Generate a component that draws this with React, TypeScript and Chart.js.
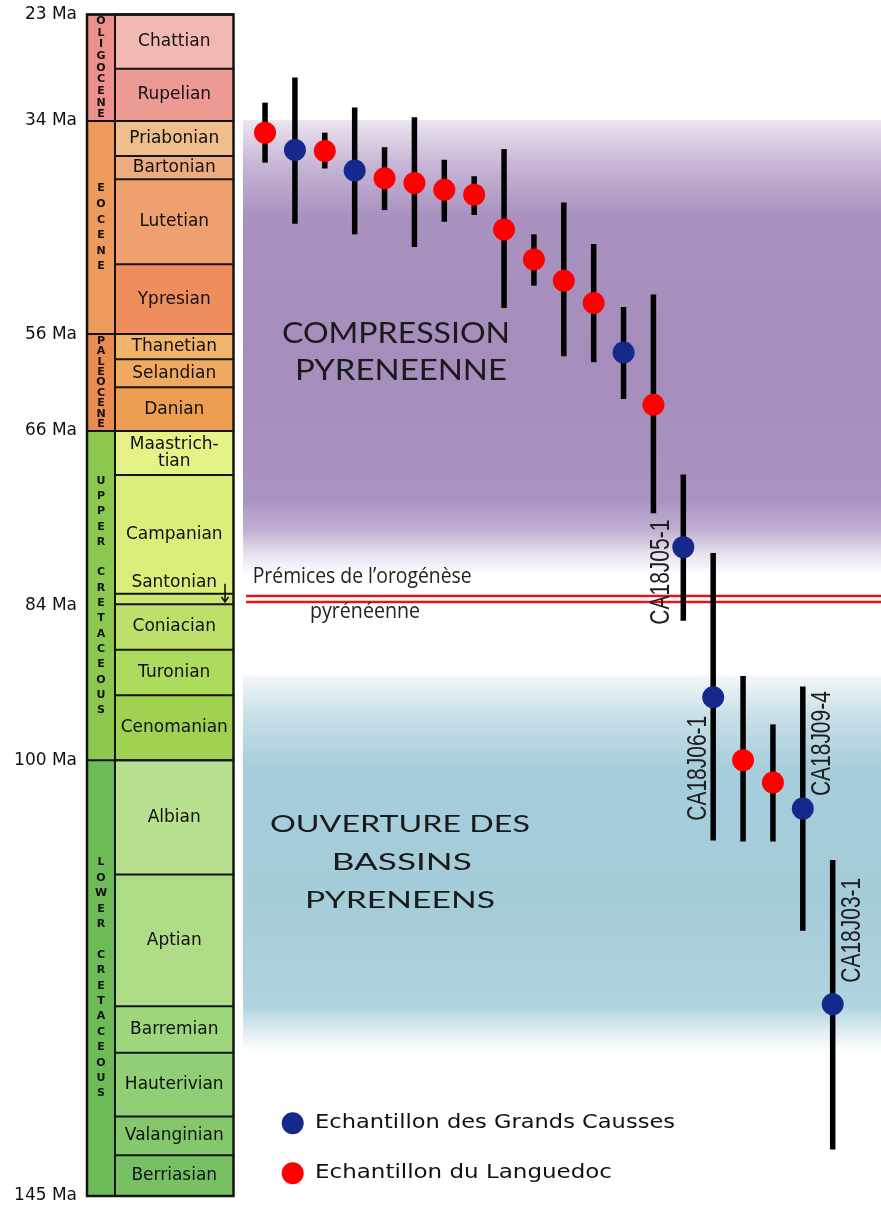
import React, { useEffect, useRef } from 'react';
import { Chart, registerables } from 'chart.js';

Chart.register(...registerables);

// ---------------- data ----------------
const tickAges = [23, 34, 56, 66, 84, 100, 145];

const epochNames = ['OLIGOCENE', 'EOCENE', 'PALEOCENE', 'UPPER CRETACEOUS', 'LOWER CRETACEOUS'];
const epochTop = [23, 34, 56, 66, 100];
const epochBase = [34, 56, 66, 100, 145];
const epochColors = ['#ee918d', '#ee9a5a', '#ea8b4f', '#8cc84e', '#6dbb56'];

const stageNames = [
  'Chattian', 'Rupelian', 'Priabonian', 'Bartonian', 'Lutetian', 'Ypresian',
  'Thanetian', 'Selandian', 'Danian',
  'Maastrichtian', 'Campanian', 'Santonian', 'Coniacian', 'Turonian', 'Cenomanian',
  'Albian', 'Aptian', 'Barremian', 'Hauterivian', 'Valanginian', 'Berriasian',
];
const stageTop = [23, 28.6, 34, 37.6, 40.0, 48.8, 56, 58.6, 61.5, 66, 70.55, 82.8, 83.9, 88.6, 93.3, 100, 111.8, 125.4, 130.2, 136.8, 140.8];
const stageBase = [28.6, 34, 37.6, 40.0, 48.8, 56, 58.6, 61.5, 66, 70.55, 82.8, 83.9, 88.6, 93.3, 100, 111.8, 125.4, 130.2, 136.8, 140.8, 145];
const stageColors = [
  '#f2b8b2', '#ee9a94', '#f0bd8d', '#efab80', '#efa06f', '#f08d5c',
  '#f0b46a', '#f0a960', '#ee9e52',
  '#e5f285', '#daee7c', '#cde66f', '#bee06a', '#addb5d', '#9ed250',
  '#b7e08f', '#afdd87', '#9ed67e', '#90cf75', '#85c86b', '#77c064',
];

// samples, left to right (ages in Ma, with age range)
const sampleAge = [35.2, 37.0, 37.1, 39.1, 39.9, 40.4, 41.1, 41.6, 45.2, 48.3, 50.5, 52.8, 57.9, 63.3, 78.0, 93.5, 100.0, 102.3, 105.0, 125.2];
const sampleAgeMin = [32.1, 29.5, 35.2, 32.6, 36.7, 33.6, 38.0, 39.7, 36.9, 45.7, 42.4, 46.7, 53.2, 51.9, 70.5, 78.6, 91.3, 96.3, 92.4, 110.3];
const sampleAgeMax = [38.3, 44.6, 38.9, 45.7, 43.2, 47.0, 44.4, 43.7, 53.3, 51.0, 58.3, 58.9, 62.7, 74.5, 85.6, 108.3, 108.4, 108.4, 117.6, 140.2];
const sampleRegion = ['L', 'G', 'L', 'G', 'L', 'L', 'L', 'L', 'L', 'L', 'L', 'L', 'G', 'L', 'G', 'G', 'L', 'L', 'G', 'G'];
const sampleNames = ['', '', '', '', '', '', '', '', '', '', '', '', '', '', 'CA18J05-1', 'CA18J06-1', '', '', 'CA18J09-4', 'CA18J03-1'];

const regionNames = ['Echantillon des Grands Causses', 'Echantillon du Languedoc'];

const compressionBand = [33.9, 80.9];
const openingBand = [91.2, 130.1];
const orogenyOnsetMa = 83.36;

// ---------------- styles ----------------
const W = 881;
const H = 1206;
const BLUE = '#15298c';
const RED = '#ff0000';
const AXIS_W = 77;
const BAND_LEFT = 243;
const PERIOD_L = 87;
const PERIOD_R = 115;
const STAGE_R = 233.5;
const EPOCH_LETTER_STEP = [11.7, 15.6, 10.4, 15.3, 15.4];
const LABEL_OFFSETS: Record<string, [number, number]> = {
  'CA18J05-1': [-24, 25],
  'CA18J06-1': [-17, 71],
  'CA18J09-4': [17, -65],
  'CA18J03-1': [17, -74],
};

function fitText(ctx: CanvasRenderingContext2D, text: string, x: number, y: number, width: number, align: 'left' | 'center') {
  const w = ctx.measureText(text).width;
  const s = width / w;
  ctx.save();
  ctx.translate(x, y);
  ctx.scale(s, 1);
  ctx.textAlign = align;
  ctx.textBaseline = 'alphabetic';
  ctx.fillText(text, 0, 0);
  ctx.restore();
}

const decorPlugin = {
  id: 'decor',
  beforeDatasetsDraw(chart: any) {
    const ctx: CanvasRenderingContext2D = chart.ctx;
    const { right } = chart.chartArea;
    const left = BAND_LEFT;
    const ys = chart.scales.y;
    const xs = chart.scales.x;
    ctx.save();

    // purple compression band
    {
      const y0 = ys.getPixelForValue(compressionBand[0]);
      const y1 = ys.getPixelForValue(compressionBand[1]);
      const g = ctx.createLinearGradient(0, y0, 0, y1);
      g.addColorStop(0, '#ece5f0');
      g.addColorStop(0.1, '#c6b5d5');
      g.addColorStop(0.21, '#a992c0');
      g.addColorStop(0.5, '#a58dbc');
      g.addColorStop(0.835, '#a993c1');
      g.addColorStop(0.9, '#c0afd0');
      g.addColorStop(0.95, '#e5deec');
      g.addColorStop(1, '#ffffff');
      ctx.fillStyle = g;
      ctx.fillRect(left, y0, right - left, y1 - y0);
    }
    // blue opening band
    {
      const y0 = ys.getPixelForValue(openingBand[0]);
      const y1 = ys.getPixelForValue(openingBand[1]);
      const g = ctx.createLinearGradient(0, y0, 0, y1);
      g.addColorStop(0, '#f3f8fa');
      g.addColorStop(0.11, '#c8dfe6');
      g.addColorStop(0.25, '#a6cddb');
      g.addColorStop(0.6, '#a5ccd9');
      g.addColorStop(0.88, '#b0d4df');
      g.addColorStop(0.94, '#dbeaef');
      g.addColorStop(1, '#ffffff');
      ctx.fillStyle = g;
      ctx.fillRect(left, y0, right - left, y1 - y0);
    }

    // orogeny onset double red line
    {
      const y = ys.getPixelForValue(orogenyOnsetMa);
      for (const dy of [-3, 3]) {
        ctx.strokeStyle = 'rgba(255,130,130,0.45)';
        ctx.lineWidth = 4;
        ctx.beginPath();
        ctx.moveTo(left + 3, y + dy);
        ctx.lineTo(right, y + dy);
        ctx.stroke();
        ctx.strokeStyle = '#f01010';
        ctx.lineWidth = 2;
        ctx.beginPath();
        ctx.moveTo(left + 3, y + dy);
        ctx.lineTo(right, y + dy);
        ctx.stroke();
      }
      ctx.fillStyle = '#222';
      ctx.font = '22px "Open Sans"';
      fitText(ctx, 'Prémices de l’orogénèse', 252.7, y - 15.7, 219, 'left');
      fitText(ctx, 'pyrénéenne', 365, y + 19.3, 110, 'center');
    }

    // band titles
    ctx.fillStyle = '#1a1a1a';
    ctx.font = '28px Lato';
    fitText(ctx, 'COMPRESSION', 396, 343.3, 228, 'center');
    fitText(ctx, 'PYRENEENNE', 401, 380, 212, 'center');
    ctx.font = '23px Lato';
    fitText(ctx, 'OUVERTURE DES', 400, 831.5, 260, 'center');
    fitText(ctx, 'BASSINS', 401.7, 870, 140, 'center');
    fitText(ctx, 'PYRENEENS', 400, 908, 190, 'center');

    // error bars
    ctx.strokeStyle = '#000';
    ctx.lineWidth = 5.5;
    ctx.lineCap = 'butt';
    sampleAge.forEach((_, i) => {
      const x = xs.getPixelForValue(i);
      ctx.beginPath();
      ctx.moveTo(x, ys.getPixelForValue(sampleAgeMin[i]));
      ctx.lineTo(x, ys.getPixelForValue(sampleAgeMax[i]));
      ctx.stroke();
    });

    // geological time column
    const top = ys.getPixelForValue(23);
    const bottom = ys.getPixelForValue(145);
    stageNames.forEach((_, i) => {
      const yt = ys.getPixelForValue(stageTop[i]);
      const yb = ys.getPixelForValue(stageBase[i]);
      ctx.fillStyle = stageColors[i];
      ctx.fillRect(PERIOD_R, yt, STAGE_R - PERIOD_R, yb - yt);
    });
    epochNames.forEach((_, i) => {
      const yt = ys.getPixelForValue(epochTop[i]);
      const yb = ys.getPixelForValue(epochBase[i]);
      ctx.fillStyle = epochColors[i];
      ctx.fillRect(PERIOD_L, yt, PERIOD_R - PERIOD_L, yb - yt);
    });
    ctx.strokeStyle = '#141414';
    ctx.lineWidth = 2;
    stageNames.forEach((_, i) => {
      const yt = ys.getPixelForValue(stageTop[i]);
      ctx.beginPath();
      ctx.moveTo(PERIOD_R, yt);
      ctx.lineTo(STAGE_R, yt);
      ctx.stroke();
    });
    epochNames.forEach((_, i) => {
      const yt = ys.getPixelForValue(epochTop[i]);
      ctx.beginPath();
      ctx.moveTo(PERIOD_L, yt);
      ctx.lineTo(STAGE_R, yt);
      ctx.stroke();
    });
    ctx.beginPath();
    ctx.moveTo(PERIOD_R, top);
    ctx.lineTo(PERIOD_R, bottom);
    ctx.stroke();
    ctx.lineWidth = 2.5;
    ctx.strokeRect(PERIOD_L, top, STAGE_R - PERIOD_L, bottom - top);

    // stage names
    ctx.fillStyle = '#111';
    ctx.font = '17px "DejaVu Sans"';
    ctx.textAlign = 'center';
    ctx.textBaseline = 'middle';
    const cx = (PERIOD_R + STAGE_R) / 2;
    stageNames.forEach((n, i) => {
      const yt = ys.getPixelForValue(stageTop[i]);
      const yb = ys.getPixelForValue(stageBase[i]);
      const mid = (yt + yb) / 2;
      if (n === 'Maastrichtian') {
        ctx.fillText('Maastrich-', cx, mid - 8.5);
        ctx.fillText('tian', cx, mid + 8.5);
      } else if (n === 'Santonian') {
        ctx.fillText(n, cx, yt - 11);
        const ax = STAGE_R - 8.5;
        ctx.strokeStyle = '#111';
        ctx.lineWidth = 1.5;
        ctx.beginPath();
        ctx.moveTo(ax, yt - 10);
        ctx.lineTo(ax, mid + 3);
        ctx.moveTo(ax - 3.5, mid - 2);
        ctx.lineTo(ax, mid + 3);
        ctx.lineTo(ax + 3.5, mid - 2);
        ctx.stroke();
      } else {
        ctx.fillText(n, cx, mid);
      }
    });

    // epoch names, stacked letters
    ctx.font = 'bold 11px "DejaVu Sans"';
    const px = (PERIOD_L + PERIOD_R) / 2;
    epochNames.forEach((n, i) => {
      const yt = ys.getPixelForValue(epochTop[i]);
      const yb = ys.getPixelForValue(epochBase[i]);
      const mid = (yt + yb) / 2;
      const step = EPOCH_LETTER_STEP[i];
      const chars = n.split('');
      const start = mid - (step * (chars.length - 1)) / 2;
      chars.forEach((c, k) => {
        if (c !== ' ') ctx.fillText(c, px, start + k * step);
      });
    });

    ctx.restore();
  },
  afterDatasetsDraw(chart: any) {
    const ctx: CanvasRenderingContext2D = chart.ctx;
    const ys = chart.scales.y;
    const xs = chart.scales.x;
    ctx.save();

    // sample labels, rotated
    ctx.fillStyle = '#1e1e1e';
    ctx.font = '28px "Liberation Sans"';
    sampleNames.forEach((n, i) => {
      if (!n) return;
      const [dx, dy] = LABEL_OFFSETS[n] || [0, 0];
      const x = xs.getPixelForValue(i) + dx;
      const y = ys.getPixelForValue(sampleAge[i]) + dy;
      const w = ctx.measureText(n).width;
      ctx.save();
      ctx.translate(x, y);
      ctx.rotate(-Math.PI / 2);
      ctx.scale(105 / w, 1);
      ctx.textAlign = 'center';
      ctx.textBaseline = 'alphabetic';
      ctx.fillText(n, 0, 10);
      ctx.restore();
    });

    // legend
    const ds = chart.data.datasets;
    const rows = [1123.3, 1173.3];
    const widths = [360, 297];
    ctx.font = '20px "DejaVu Sans"';
    ds.forEach((d: any, i: number) => {
      ctx.fillStyle = d.backgroundColor;
      ctx.beginPath();
      ctx.arc(292.7, rows[i], 11, 0, Math.PI * 2);
      ctx.fill();
      ctx.fillStyle = '#111';
      fitText(ctx, d.label, 315, rows[i] + 5, widths[i], 'left');
    });
    ctx.restore();
  },
};

export default function App() {
  const ref = useRef<HTMLCanvasElement>(null);
  useEffect(() => {
    const canvas = ref.current;
    if (!canvas) return;
    const idx = sampleAge.map((_, i) => i);
    const pts = (r: string) => idx.filter((i) => sampleRegion[i] === r).map((i) => ({ x: i, y: sampleAge[i] }));
    const chart = new Chart(canvas, {
      type: 'scatter',
      data: {
        datasets: [
          { label: regionNames[0], data: pts('G'), backgroundColor: BLUE, borderWidth: 0, pointRadius: 11, pointHoverRadius: 11 },
          { label: regionNames[1], data: pts('L'), backgroundColor: RED, borderWidth: 0, pointRadius: 11, pointHoverRadius: 11 },
        ],
      },
      options: {
        responsive: false,
        maintainAspectRatio: false,
        devicePixelRatio: 1,
        animation: false,
        events: [],
        layout: { autoPadding: false, padding: { top: 14.5, bottom: 10, left: 0, right: 0 } },
        plugins: { legend: { display: false }, tooltip: { enabled: false } },
        scales: {
          x: { type: 'linear', min: -6.294, max: 20.617, display: false },
          y: {
            type: 'linear',
            reverse: true,
            min: 23,
            max: 145,
            afterBuildTicks: (s: any) => {
              s.ticks = tickAges.map((v) => ({ value: v }));
            },
            afterFit: (s: any) => {
              s.width = AXIS_W;
            },
            grid: { display: false, drawTicks: false },
            border: { display: false },
            ticks: {
              autoSkip: false,
              padding: 0,
              color: '#111',
              font: { family: 'DejaVu Sans', size: 17, lineHeight: 1 },
              callback: (v: any) => `${v} Ma`,
            },
          },
        },
      },
      plugins: [decorPlugin],
    } as any);
    return () => chart.destroy();
  }, []);
  return (
    <div style={{ position: 'absolute', left: 0, top: 0, width: W, height: H, background: '#fff' }}>
      <canvas ref={ref} width={W} height={H} style={{ display: 'block', width: W, height: H }} />
    </div>
  );
}
